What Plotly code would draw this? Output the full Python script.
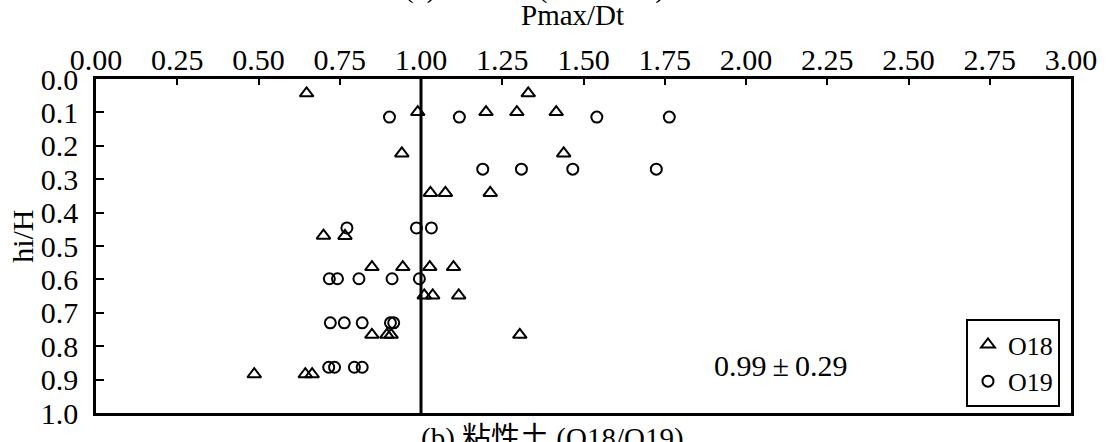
import plotly.graph_objects as go

# Pmax/Dt against relative depth hi/H for two test series
o18_x = [0.648, 0.990, 1.200, 1.295, 1.330, 1.416, 0.941, 1.439, 1.029, 1.075,
         1.213, 0.700, 0.766, 0.849, 0.944, 1.027, 1.100, 1.010, 1.036, 1.116,
         0.849, 0.895, 0.908, 1.304, 0.487, 0.644, 0.665]
o18_y = [0.043, 0.099, 0.099, 0.099, 0.043, 0.099, 0.223, 0.223, 0.341, 0.341,
         0.341, 0.469, 0.470, 0.563, 0.563, 0.563, 0.563, 0.648, 0.648, 0.648,
         0.766, 0.766, 0.766, 0.766, 0.884, 0.884, 0.884]

o19_x = [0.903, 1.118, 1.541, 1.764, 1.190, 1.309, 1.467, 1.724, 0.772, 0.986,
         1.032, 0.718, 0.743, 0.809, 0.911, 0.995, 0.721, 0.764, 0.819, 0.906,
         0.916, 0.716, 0.734, 0.795, 0.819]
o19_y = [0.114, 0.114, 0.114, 0.114, 0.270, 0.270, 0.270, 0.270, 0.446, 0.446,
         0.446, 0.598, 0.598, 0.598, 0.598, 0.598, 0.730, 0.730, 0.730, 0.730,
         0.730, 0.863, 0.863, 0.863, 0.863]

x_ticks = [i * 0.25 for i in range(13)]
x_tick_text = [f"{v:.2f}" for v in x_ticks]
y_ticks = [i / 10 for i in range(11)]
y_tick_text = [f"{v:.1f}" for v in y_ticks]

ratio_note = "0.99\u2009±\u20090.29"
series_names = ["O18", "O19"]

SERIF = "Liberation Serif"
CJK = "Noto Sans CJK SC"

fig = go.Figure()
fig.add_trace(go.Scatter(
    x=o18_x, y=o18_y, mode="markers", name=series_names[0],
    marker=dict(symbol="triangle-up-open", size=12, color="black",
                line=dict(width=2, color="black")),
))
fig.add_trace(go.Scatter(
    x=o19_x, y=o19_y, mode="markers", name=series_names[1],
    marker=dict(symbol="circle-open", size=11, color="black",
                line=dict(width=2, color="black")),
))

# reference line at Pmax/Dt = 1
fig.add_shape(type="line", x0=1, x1=1, y0=0, y1=1, xref="x", yref="y",
              line=dict(color="black", width=3))

fig.update_xaxes(
    side="top", range=[0, 3], tickvals=x_ticks, ticktext=x_tick_text,
    ticks="inside", ticklen=6, tickwidth=2, tickcolor="black",
    showline=True, linecolor="black", linewidth=2.5, mirror=True,
    showgrid=False, zeroline=False, ticklabelstandoff=-6,
    tickfont=dict(family=SERIF, size=30, color="black"),
)
fig.update_yaxes(
    range=[1, 0], tickvals=y_ticks, ticktext=y_tick_text,
    ticks="inside", ticklen=8, tickwidth=2, tickcolor="black",
    showline=True, linecolor="black", linewidth=2.5, mirror=True,
    showgrid=False, zeroline=False, ticklabelstandoff=9,
    tickfont=dict(family=SERIF, size=30, color="black"),
)

annotations = [
    dict(text="Pmax/Dt", x=0.489, y=1.138, xref="paper", yref="paper",
         xanchor="center", yanchor="bottom", showarrow=False,
         font=dict(family=SERIF, size=29, color="black")),
    dict(text="hi/H", x=-0.075, y=0.53, xref="paper", yref="paper",
         xanchor="center", yanchor="middle", textangle=-90, showarrow=False,
         font=dict(family=SERIF, size=30, color="black")),
    dict(text=ratio_note, x=0.702, y=0.142, xref="paper", yref="paper",
         xanchor="center", yanchor="middle", showarrow=False,
         font=dict(family=SERIF, size=30, color="black")),
    dict(text="(b) 粘性土 (O18/O19)", x=0.468, y=-0.02, xref="paper", yref="paper",
         xanchor="center", yanchor="top", showarrow=False,
         font=dict(family=SERIF + ", " + CJK, size=29, color="black")),
    dict(text="(a) 砂性土 (O18/O19)", x=0.45, y=1.218, xref="paper", yref="paper",
         xanchor="center", yanchor="bottom", showarrow=False,
         font=dict(family=SERIF + ", " + CJK, size=29, color="black")),
]

fig.update_layout(
    width=1111, height=442,
    margin=dict(l=96, r=40, t=79, b=18),
    paper_bgcolor="white", plot_bgcolor="white",
    annotations=annotations,
    showlegend=True,
    legend=dict(
        x=0.9887, y=0.018, xanchor="right", yanchor="bottom",
        bgcolor="white", bordercolor="black", borderwidth=2,
        font=dict(family=SERIF, size=26, color="black"),
        tracegroupgap=0, itemwidth=30, entrywidth=110, entrywidthmode="pixels",
    ),
)

fig.write_html("out.html")
